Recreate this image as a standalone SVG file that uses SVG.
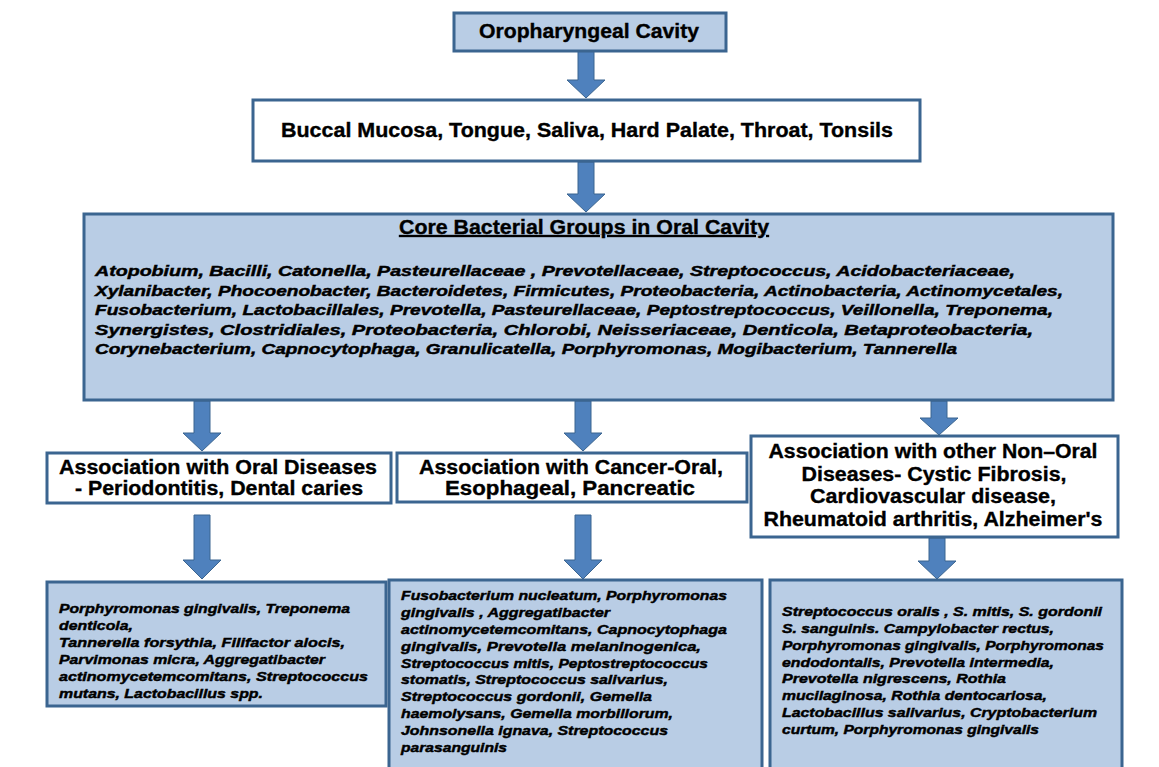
<svg xmlns="http://www.w3.org/2000/svg" width="1159" height="767" viewBox="0 0 1159 767">
<style>
.box{stroke:#3b6590;stroke-width:3}
.blue{fill:#b9cde5}
.white{fill:#ffffff}
.arrow{fill:#4f81bd;stroke:#3b6590;stroke-width:1}
.h{font-family:"Liberation Sans",Arial,sans-serif;font-weight:bold;font-size:20px;fill:#000;stroke:#000;stroke-width:0.35;text-anchor:middle}
.b{font-family:"Liberation Sans",Arial,sans-serif;font-weight:bold;font-style:italic;fill:#000;stroke:#000;stroke-width:0.45}
.b15{font-size:15px}
.b13{font-size:13.5px}
</style>
<rect width="1159" height="767" fill="#ffffff"/>
<g id="connectors">
<polygon class="arrow" points="578,51 594,51 594,80 605,80 586,98 567,80 578,80"/>
<polygon class="arrow" points="578,162 594,162 594,194 605,194 586,212 567,194 578,194"/>
<polygon class="arrow" points="194,401 210,401 210,433 221,433 202,451 183,433 194,433"/>
<polygon class="arrow" points="575,401 591,401 591,433 602,433 583,451 564,433 575,433"/>
<polygon class="arrow" points="931,401 947,401 947,418 958,418 939,435 920,418 931,418"/>
<polygon class="arrow" points="194,515 210,515 210,560 221,560 202,579 183,560 194,560"/>
<polygon class="arrow" points="575,515 591,515 591,560 602,560 583,579 564,560 575,560"/>
<polygon class="arrow" points="929,538 945,538 945,561 956,561 937,579 918,561 929,561"/>
</g>
<g id="oropharyngeal">
<rect class="box blue" x="454" y="13" width="272" height="38"/>
<text class="h" x="589" y="38" font-size="19" textLength="220" lengthAdjust="spacingAndGlyphs">Oropharyngeal Cavity</text>
</g>
<g id="sites">
<rect class="box white" x="253" y="100" width="667" height="61"/>
<text class="h" x="587" y="137" textLength="612" lengthAdjust="spacingAndGlyphs">Buccal Mucosa, Tongue, Saliva, Hard Palate, Throat, Tonsils</text>
</g>
<g id="core">
<rect class="box blue" x="84" y="214" width="1029" height="186"/>
<text class="h" x="584" y="234" font-size="18" text-decoration="underline" textLength="370" lengthAdjust="spacingAndGlyphs">Core Bacterial Groups in Oral Cavity</text>
<text class="b b15" x="95" y="276" textLength="920" lengthAdjust="spacingAndGlyphs">Atopobium,  Bacilli, Catonella, Pasteurellaceae , Prevotellaceae,  Streptococcus,  Acidobacteriaceae,</text>
<text class="b b15" x="95" y="296" textLength="968" lengthAdjust="spacingAndGlyphs">Xylanibacter, Phocoenobacter,  Bacteroidetes, Firmicutes, Proteobacteria,  Actinobacteria,  Actinomycetales,</text>
<text class="b b15" x="95" y="315" textLength="958" lengthAdjust="spacingAndGlyphs">Fusobacterium,  Lactobacillales, Prevotella, Pasteurellaceae,  Peptostreptococcus,   Veillonella, Treponema,</text>
<text class="b b15" x="95" y="335" textLength="938" lengthAdjust="spacingAndGlyphs">Synergistes, Clostridiales,  Proteobacteria,   Chlorobi, Neisseriaceae, Denticola, Betaproteobacteria,</text>
<text class="b b15" x="95" y="354" textLength="862" lengthAdjust="spacingAndGlyphs">Corynebacterium,  Capnocytophaga,  Granulicatella, Porphyromonas,  Mogibacterium,  Tannerella</text>
</g>
<g id="oral-diseases">
<rect class="box white" x="47" y="453" width="344" height="50"/>
<text class="h" x="218" y="474" textLength="318" lengthAdjust="spacingAndGlyphs">Association with Oral Diseases</text>
<text class="h" x="219" y="495" textLength="288" lengthAdjust="spacingAndGlyphs">- Periodontitis, Dental caries</text>
</g>
<g id="cancer">
<rect class="box white" x="397" y="453" width="350" height="49"/>
<text class="h" x="571" y="474" textLength="304" lengthAdjust="spacingAndGlyphs">Association with Cancer-Oral,</text>
<text class="h" x="570" y="495" textLength="250" lengthAdjust="spacingAndGlyphs">Esophageal,  Pancreatic</text>
</g>
<g id="non-oral">
<rect class="box white" x="751" y="436" width="367" height="101"/>
<text class="h" x="933" y="458" textLength="329" lengthAdjust="spacingAndGlyphs">Association with other Non–Oral</text>
<text class="h" x="934" y="481" textLength="265" lengthAdjust="spacingAndGlyphs">Diseases- Cystic Fibrosis,</text>
<text class="h" x="933" y="503" textLength="246" lengthAdjust="spacingAndGlyphs">Cardiovascular disease,</text>
<text class="h" x="933" y="526" textLength="339" lengthAdjust="spacingAndGlyphs">Rheumatoid arthritis, Alzheimer's</text>
</g>
<g id="oral-species">
<rect class="box blue" x="47" y="582" width="339" height="124"/>
<text class="b b13" x="59" y="613" textLength="291" lengthAdjust="spacingAndGlyphs">Porphyromonas gingivalis, Treponema</text>
<text class="b b13" x="59" y="630" textLength="74" lengthAdjust="spacingAndGlyphs">denticola,</text>
<text class="b b13" x="59" y="647" textLength="286" lengthAdjust="spacingAndGlyphs">Tannerella forsythia, Filifactor alocis,</text>
<text class="b b13" x="59" y="664" textLength="266" lengthAdjust="spacingAndGlyphs">Parvimonas micra, Aggregatibacter</text>
<text class="b b13" x="59" y="681" textLength="309" lengthAdjust="spacingAndGlyphs">actinomycetemcomitans, Streptococcus</text>
<text class="b b13" x="59" y="698" textLength="204" lengthAdjust="spacingAndGlyphs">mutans, Lactobacillus spp.</text>
</g>
<g id="cancer-species">
<rect class="box blue" x="389" y="580" width="373" height="200"/>
<text class="b b13" x="401" y="600" textLength="326" lengthAdjust="spacingAndGlyphs">Fusobacterium nucleatum, Porphyromonas</text>
<text class="b b13" x="401" y="617" textLength="209" lengthAdjust="spacingAndGlyphs">gingivalis , Aggregatibacter</text>
<text class="b b13" x="401" y="634" textLength="326" lengthAdjust="spacingAndGlyphs">actinomycetemcomitans, Capnocytophaga</text>
<text class="b b13" x="401" y="651" textLength="300" lengthAdjust="spacingAndGlyphs">gingivalis, Prevotella melaninogenica,</text>
<text class="b b13" x="401" y="668" textLength="307" lengthAdjust="spacingAndGlyphs">Streptococcus mitis, Peptostreptococcus</text>
<text class="b b13" x="401" y="684" textLength="267" lengthAdjust="spacingAndGlyphs">stomatis, Streptococcus salivarius,</text>
<text class="b b13" x="401" y="701" textLength="251" lengthAdjust="spacingAndGlyphs">Streptococcus gordonii, Gemella</text>
<text class="b b13" x="401" y="718" textLength="272" lengthAdjust="spacingAndGlyphs">haemolysans, Gemella morbillorum,</text>
<text class="b b13" x="401" y="735" textLength="267" lengthAdjust="spacingAndGlyphs">Johnsonella ignava, Streptococcus</text>
<text class="b b13" x="401" y="752" textLength="106" lengthAdjust="spacingAndGlyphs">parasanguinis</text>
</g>
<g id="non-oral-species">
<rect class="box blue" x="770" y="580" width="352" height="200"/>
<text class="b b13" x="782" y="616" textLength="320" lengthAdjust="spacingAndGlyphs">Streptococcus oralis , S. mitis, S. gordonii</text>
<text class="b b13" x="782" y="633" textLength="272" lengthAdjust="spacingAndGlyphs">S. sanguinis. Campylobacter  rectus,</text>
<text class="b b13" x="782" y="650" textLength="322" lengthAdjust="spacingAndGlyphs">Porphyromonas gingivalis, Porphyromonas</text>
<text class="b b13" x="782" y="667" textLength="272" lengthAdjust="spacingAndGlyphs">endodontalis, Prevotella intermedia,</text>
<text class="b b13" x="782" y="683" textLength="224" lengthAdjust="spacingAndGlyphs">Prevotella nigrescens, Rothia</text>
<text class="b b13" x="782" y="700" textLength="265" lengthAdjust="spacingAndGlyphs">mucilaginosa, Rothia dentocariosa,</text>
<text class="b b13" x="782" y="717" textLength="315" lengthAdjust="spacingAndGlyphs">Lactobacillus salivarius, Cryptobacterium</text>
<text class="b b13" x="782" y="734" textLength="257" lengthAdjust="spacingAndGlyphs">curtum, Porphyromonas gingivalis</text>
</g>
</svg>
